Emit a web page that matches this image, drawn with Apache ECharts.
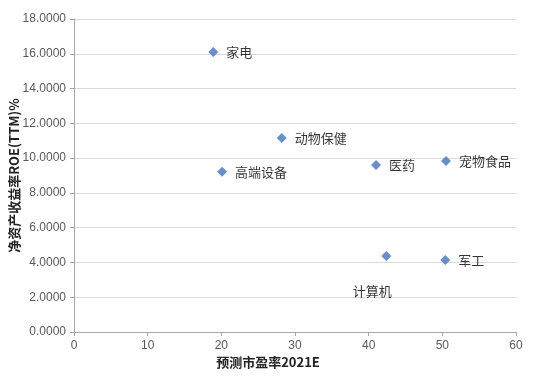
<!DOCTYPE html>
<html>
<head>
<meta charset="utf-8">
<script src="https://cdn.jsdelivr.net/npm/echarts@6/dist/echarts.min.js"></script>
<style>
  html, body { margin: 0; padding: 0; background: #fff; }
  #chart { width: 550px; height: 376px; }
</style>
</head>
<body>
<div id="chart"></div>
<script>
// 行业
const industries = ['家电', '动物保健', '高端设备', '医药', '宠物食品', '计算机', '军工']
// 预测市盈率2021E
const peValues = [18.9, 28.2, 20.1, 41.0, 50.5, 42.4, 50.4]
// 净资产收益率ROE(TTM)%
const roeValues = [16.10, 11.15, 9.22, 9.60, 9.83, 4.37, 4.14]

const chart = echarts.init(document.getElementById('chart'))

const points = industries.map((name, i) => {
  const p = { name: name, value: [peValues[i], roeValues[i]] }
  if (name === '计算机') {
    p.label = { position: 'bottom', offset: [-14, 16] }
  }
  return p
})

const fontFamily = '"Noto Sans CJK SC", "Liberation Sans", sans-serif'

chart.setOption({
  animation: false,
  textStyle: { fontFamily: fontFamily },
  grid: { left: 74, right: 34, top: 19, bottom: 44, outerBoundsMode: 'none', containLabel: false },
  xAxis: {
    type: 'value',
    min: 0,
    max: 60,
    interval: 10,
    name: '预测市盈率2021E',
    nameLocation: 'middle',
    nameGap: 24,
    nameMoveOverlap: false,
    nameTextStyle: { fontSize: 13, fontWeight: 'bold', color: '#222', padding: [0, 54, 0, 0] },
    axisLine: { lineStyle: { color: '#a6a6a6' } },
    axisTick: { show: true, length: 4, lineStyle: { color: '#a6a6a6' } },
    axisLabel: { color: '#595959', fontSize: 12, fontFamily: '"Liberation Sans", sans-serif' },
    splitLine: { show: false }
  },
  yAxis: {
    type: 'value',
    min: 0,
    max: 18,
    interval: 2,
    name: '净资产收益率ROE(TTM)%',
    nameLocation: 'middle',
    nameGap: 53,
    nameMoveOverlap: false,
    nameTextStyle: { fontSize: 13, fontWeight: 'bold', color: '#222' },
    axisLine: { show: true, lineStyle: { color: '#a6a6a6' } },
    axisTick: { show: true, length: 4, lineStyle: { color: '#a6a6a6' } },
    axisLabel: {
      color: '#595959',
      fontSize: 12,
      fontFamily: '"Liberation Sans", sans-serif',
      formatter: v => v.toFixed(4)
    },
    splitLine: { lineStyle: { color: '#d9d9d9' } }
  },
  series: [{
    type: 'scatter',
    symbol: 'diamond',
    symbolSize: 10,
    itemStyle: { color: '#4472C4' },
    label: {
      show: true,
      position: 'right',
      distance: 8,
      formatter: '{b}',
      color: '#000',
      fontSize: 13
    },
    data: points
  }]
})
</script>
</body>
</html>
